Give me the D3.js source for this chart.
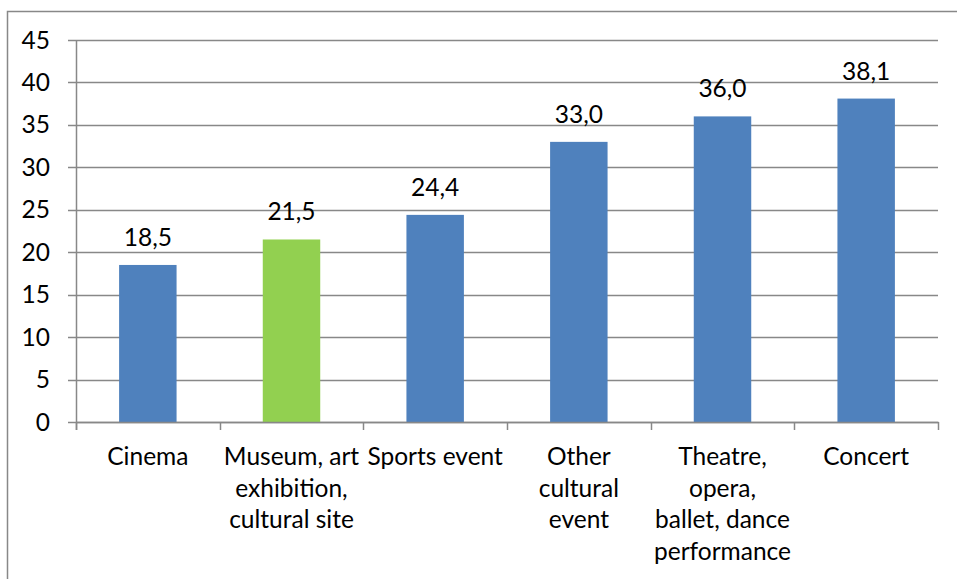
<!DOCTYPE html>
<html>
<head>
<meta charset="utf-8">
<script src="https://cdnjs.cloudflare.com/ajax/libs/d3/7.8.5/d3.min.js"></script>
<style>
  html, body { margin: 0; padding: 0; background: #fff; }
  svg { display: block; }
  text { font-family: Lato, "Open Sans", sans-serif; fill: #000; }
</style>
</head>
<body>
<svg id="chart" width="957" height="579"></svg>
<script>
// Share of respondents attending each type of event
const categories = ["Cinema", "Museum, art exhibition, cultural site", "Sports event",
  "Other cultural event", "Theatre, opera, ballet, dance performance", "Concert"];
const categoryLines = [
  ["Cinema"],
  ["Museum, art", "exhibition,", "cultural site"],
  ["Sports event"],
  ["Other", "cultural", "event"],
  ["Theatre,", "opera,", "ballet, dance", "performance"],
  ["Concert"]
];
const values = [18.5, 21.5, 24.4, 33.0, 36.0, 38.1];
const valueLabels = ["18,5", "21,5", "24,4", "33,0", "36,0", "38,1"];
const highlighted = ["Museum, art exhibition, cultural site"];
const yTicks = [0, 5, 10, 15, 20, 25, 30, 35, 40, 45];

const svg = d3.select("#chart");
const plot = { left: 76, right: 938, top: 40, bottom: 422 };
const fontSize = 24.5;

// Outer chart frame
svg.append("rect")
  .attr("x", 7.5).attr("y", 11.5)
  .attr("width", 1000).attr("height", 700)
  .attr("fill", "none").attr("stroke", "#888").attr("stroke-width", 1.5);

const y = d3.scaleLinear().domain([0, 45]).range([plot.bottom, plot.top]);
const x = d3.scaleBand().domain(categories)
  .range([plot.left, plot.right]).paddingInner(0.6).paddingOuter(0.3);
const xCat = d3.scaleBand().domain(categories).range([plot.left, plot.right]).padding(0);

// Horizontal gridlines with outward ticks
svg.append("g").selectAll("line").data(yTicks).join("line")
  .attr("x1", plot.left - 8).attr("x2", plot.right)
  .attr("y1", d => Math.round(y(d)) + 0.5).attr("y2", d => Math.round(y(d)) + 0.5)
  .attr("stroke", "#888").attr("stroke-width", 1.5);

// Y tick labels
svg.append("g").selectAll("text").data(yTicks).join("text")
  .attr("x", 50).attr("y", d => y(d))
  .attr("dy", "0.35em")
  .attr("text-anchor", "end")
  .attr("font-size", fontSize)
  .text(d => d);

// Bars
svg.append("g").selectAll("rect").data(categories).join("rect")
  .attr("x", d => x(d))
  .attr("y", (d, i) => y(values[i]))
  .attr("width", x.bandwidth())
  .attr("height", (d, i) => y(0) - y(values[i]))
  .attr("fill", d => highlighted.includes(d) ? "#92D050" : "#4F81BD");

// Value labels
svg.append("g").selectAll("text").data(categories).join("text")
  .attr("x", d => x(d) + x.bandwidth() / 2)
  .attr("y", (d, i) => y(values[i]) - 19)
  .attr("text-anchor", "middle")
  .attr("font-size", fontSize)
  .text((d, i) => valueLabels[i]);

// Axis lines
const axisColor = "#888";
svg.append("line")
  .attr("x1", plot.left + 0.5).attr("x2", plot.left + 0.5)
  .attr("y1", plot.top).attr("y2", plot.bottom + 8)
  .attr("stroke", axisColor).attr("stroke-width", 1.5);
svg.append("line")
  .attr("x1", plot.left).attr("x2", plot.right + 0.75)
  .attr("y1", plot.bottom + 0.5).attr("y2", plot.bottom + 0.5)
  .attr("stroke", axisColor).attr("stroke-width", 1.5);

// Category boundary ticks
const boundaries = categories.map(c => xCat(c)).concat([plot.right]);
svg.append("g").selectAll("line").data(boundaries).join("line")
  .attr("x1", d => Math.round(d) + 0.5).attr("x2", d => Math.round(d) + 0.5)
  .attr("y1", plot.bottom).attr("y2", plot.bottom + 8)
  .attr("stroke", axisColor).attr("stroke-width", 1.5);

// Category labels (wrapped)
const catG = svg.append("g");
categories.forEach((c, i) => {
  const cx = xCat(c) + xCat.bandwidth() / 2;
  const t = catG.append("text")
    .attr("x", cx)
    .attr("y", 465)
    .attr("text-anchor", "middle")
    .attr("font-size", fontSize);
  categoryLines[i].forEach((line, j) => {
    t.append("tspan")
      .attr("x", cx)
      .attr("y", 465 + j * 31.5)
      .text(line);
  });
});
</script>
</body>
</html>
